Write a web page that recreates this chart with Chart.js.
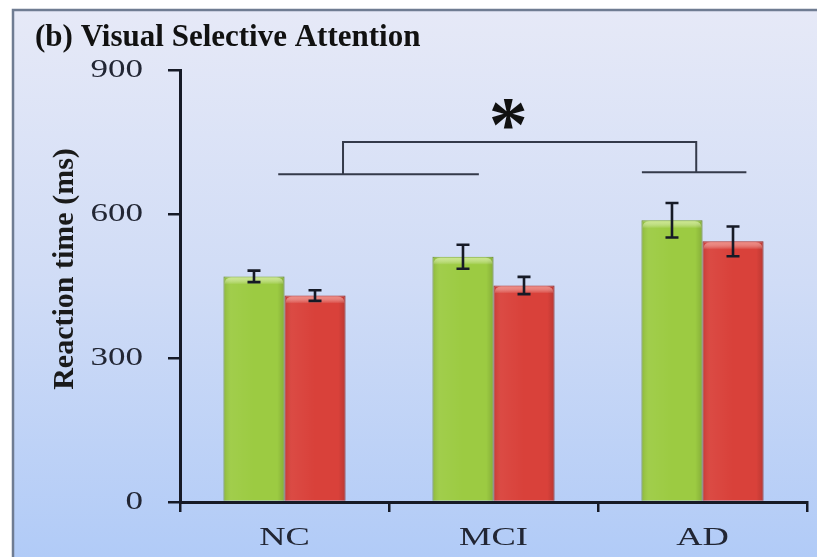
<!DOCTYPE html>
<html>
<head>
<meta charset="utf-8">
<script src="https://cdn.jsdelivr.net/npm/chart.js@4/dist/chart.umd.min.js"></script>
<style>
  html, body { margin: 0; padding: 0; background: #ffffff; }
  #wrap { width: 817px; height: 557px; position: relative; }
</style>
</head>
<body>
<div id="wrap"><canvas id="c" width="817" height="557"></canvas></div>
<script>
// Reaction time (ms) by group, two conditions with standard-error bars
const groups = ['NC', 'MCI', 'AD'];
const greenMeans = [470, 511, 587];
const greenErrors = [12, 25, 36];
const redMeans = [430, 451, 543];
const redErrors = [11, 18, 31];
const yTicks = [0, 300, 600, 900];

// Significance bracket, in category-index / value units
const bracket = {
  leftBase: { from: -0.03, to: 0.93, value: 683 },
  rightBase: { from: 1.71, to: 2.21, value: 687 },
  top: { from: 0.28, to: 1.97, value: 750 },
  star: { at: 1.07, value: 808 }
};

const INK = '#161a26';
const SERIF = '"Liberation Serif", "Times New Roman", serif';

const backdrop = {
  id: 'backdrop',
  beforeDraw(chart) {
    const ctx = chart.ctx;
    const w = chart.width, h = chart.height;
    ctx.save();
    ctx.fillStyle = '#ffffff';
    ctx.fillRect(0, 0, w, h);
    const g = ctx.createLinearGradient(0, 10, 0, h);
    g.addColorStop(0, '#e6e9f7');
    g.addColorStop(0.5, '#d0dcf6');
    g.addColorStop(1, '#b1cbf7');
    ctx.fillStyle = g;
    ctx.fillRect(13, 10, w - 13, h - 10);
    ctx.strokeStyle = '#6f7c92';
    ctx.lineWidth = 2.5;
    ctx.beginPath();
    ctx.moveTo(13, h + 2);
    ctx.lineTo(13, 10);
    ctx.lineTo(w + 2, 10);
    ctx.stroke();
    ctx.restore();
  }
};

const extras = {
  id: 'extras',
  afterDatasetsDraw(chart) {
    const ctx = chart.ctx;
    const xs = chart.scales.x, ys = chart.scales.y;
    const errs = [greenErrors, redErrors];
    const means = [greenMeans, redMeans];
    const tops = ['rgba(205,232,140,0.95)', 'rgba(240,140,130,0.9)'];

    // bevel shading on each bar
    chart.data.datasets.forEach((ds, di) => {
      chart.getDatasetMeta(di).data.forEach((bar) => {
        const left = bar.x - bar.width / 2;
        const right = bar.x + bar.width / 2;
        const base = bar.base;
        ctx.save();
        const hg = ctx.createLinearGradient(left, 0, right, 0);
        hg.addColorStop(0, 'rgba(0,0,0,0.10)');
        hg.addColorStop(0.12, 'rgba(255,255,255,0.05)');
        hg.addColorStop(0.5, 'rgba(255,255,255,0.0)');
        hg.addColorStop(0.88, 'rgba(0,0,0,0.0)');
        hg.addColorStop(1, 'rgba(0,0,0,0.14)');
        ctx.fillStyle = hg;
        ctx.fillRect(left, bar.y, right - left, base - bar.y);
        const vg = ctx.createLinearGradient(0, bar.y, 0, bar.y + 8);
        vg.addColorStop(0, tops[di]);
        vg.addColorStop(1, 'rgba(255,255,255,0)');
        ctx.fillStyle = vg;
        ctx.beginPath();
        ctx.moveTo(left + 1, bar.y + 8);
        ctx.quadraticCurveTo(left + 1, bar.y + 1, left + 8, bar.y + 1);
        ctx.lineTo(right - 8, bar.y + 1);
        ctx.quadraticCurveTo(right - 1, bar.y + 1, right - 1, bar.y + 8);
        ctx.closePath();
        ctx.fill();
        ctx.restore();
      });
    });

    // error bars
    ctx.save();
    ctx.strokeStyle = INK;
    ctx.lineWidth = 2.6;
    chart.data.datasets.forEach((ds, di) => {
      chart.getDatasetMeta(di).data.forEach((bar, i) => {
        const m = means[di][i], e = errs[di][i];
        const yHi = ys.getPixelForValue(m + e);
        const yLo = ys.getPixelForValue(m - e);
        const cap = 6.5;
        ctx.beginPath();
        ctx.moveTo(bar.x, yHi); ctx.lineTo(bar.x, yLo);
        ctx.moveTo(bar.x - cap, yHi); ctx.lineTo(bar.x + cap, yHi);
        ctx.moveTo(bar.x - cap, yLo); ctx.lineTo(bar.x + cap, yLo);
        ctx.stroke();
      });
    });
    ctx.restore();

    // significance bracket
    const px = (v) => {
      const step = xs.getPixelForValue(1) - xs.getPixelForValue(0);
      return xs.getPixelForValue(0) + v * step;
    };
    ctx.save();
    ctx.strokeStyle = '#343a4a';
    ctx.lineWidth = 2;
    const lb = bracket.leftBase, rb = bracket.rightBase, tp = bracket.top;
    ctx.beginPath();
    ctx.moveTo(px(lb.from), ys.getPixelForValue(lb.value));
    ctx.lineTo(px(lb.to), ys.getPixelForValue(lb.value));
    ctx.moveTo(px(rb.from), ys.getPixelForValue(rb.value));
    ctx.lineTo(px(rb.to), ys.getPixelForValue(rb.value));
    ctx.moveTo(px(tp.from), ys.getPixelForValue(lb.value));
    ctx.lineTo(px(tp.from), ys.getPixelForValue(tp.value));
    ctx.lineTo(px(tp.to), ys.getPixelForValue(tp.value));
    ctx.lineTo(px(tp.to), ys.getPixelForValue(rb.value));
    ctx.stroke();

    // asterisk
    ctx.fillStyle = '#111111';
    ctx.font = 'bold 78px ' + SERIF;
    ctx.textAlign = 'center';
    ctx.textBaseline = 'alphabetic';
    const mt = ctx.measureText('*');
    const cx = px(bracket.star.at);
    const cy = ys.getPixelForValue(bracket.star.value);
    ctx.fillText('*', cx, cy + (mt.actualBoundingBoxAscent - mt.actualBoundingBoxDescent) / 2);
    ctx.restore();
  },
  afterDraw(chart) {
    const ctx = chart.ctx;
    const xs = chart.scales.x, ys = chart.scales.y;
    ctx.save();
    ctx.fillStyle = '#222634';
    ctx.font = '25px ' + SERIF;
    // y tick labels (wide-set type)
    ys.ticks.forEach((t, i) => {
      const y = ys.getPixelForTick(i);
      ctx.save();
      ctx.translate(143, y);
      ctx.scale(1.4, 1);
      ctx.textAlign = 'right';
      ctx.textBaseline = 'middle';
      ctx.fillText(String(t.value), 0, 0);
      ctx.restore();
    });
    // category labels
    ctx.font = '26px ' + SERIF;
    groups.forEach((g, i) => {
      const x = xs.getPixelForValue(i);
      ctx.save();
      ctx.translate(x, chart.chartArea.bottom + 36);
      ctx.scale(1.4, 1);
      ctx.textAlign = 'center';
      ctx.textBaseline = 'middle';
      ctx.fillText(g, 0, 0);
      ctx.restore();
    });
    // y axis title
    ctx.fillStyle = '#1a1a1a';
    ctx.font = 'bold 30px ' + SERIF;
    ctx.translate(65, 269);
    ctx.rotate(-Math.PI / 2);
    ctx.textAlign = 'center';
    ctx.textBaseline = 'middle';
    ctx.fillText('Reaction time (ms)', 0, 0);
    ctx.restore();
  }
};

new Chart(document.getElementById('c'), {
  type: 'bar',
  data: {
    labels: groups,
    datasets: [
      {
        label: 'Condition 1',
        data: greenMeans,
        backgroundColor: '#9ccb42',
        borderColor: '#7ea933',
        borderWidth: 1,
        categoryPercentage: 0.584,
        barPercentage: 1.0
      },
      {
        label: 'Condition 2',
        data: redMeans,
        backgroundColor: '#d9413a',
        borderColor: '#b0302a',
        borderWidth: 1,
        categoryPercentage: 0.584,
        barPercentage: 1.0
      }
    ]
  },
  options: {
    responsive: false,
    animation: false,
    events: [],
    layout: { padding: { left: 35, top: 10, right: 10, bottom: 0 } },
    plugins: {
      legend: { display: false },
      tooltip: { enabled: false },
      title: {
        display: true,
        text: '(b) Visual Selective Attention',
        align: 'start',
        color: '#111111',
        font: { family: SERIF, size: 31, weight: 'bold', lineHeight: 1.2 },
        padding: { top: 9, bottom: 13.8 }
      }
    },
    scales: {
      x: {
        grid: {
          display: true,
          offset: true,
          drawOnChartArea: false,
          drawTicks: true,
          tickLength: 10,
          color: INK,
          lineWidth: 2.5
        },
        border: { display: true, color: INK, width: 3 },
        ticks: { display: false },
        afterFit(scale) { scale.height = 55; }
      },
      y: {
        min: 0,
        max: 900,
        afterBuildTicks(scale) { scale.ticks = yTicks.map(v => ({ value: v })); },
        grid: {
          display: true,
          drawOnChartArea: false,
          drawTicks: true,
          tickLength: 12,
          color: INK,
          lineWidth: 2.5
        },
        border: { display: true, color: INK, width: 3 },
        ticks: { display: false },
        afterFit(scale) { scale.width = 145; }
      }
    }
  },
  plugins: [backdrop, extras]
});
</script>
</body>
</html>
